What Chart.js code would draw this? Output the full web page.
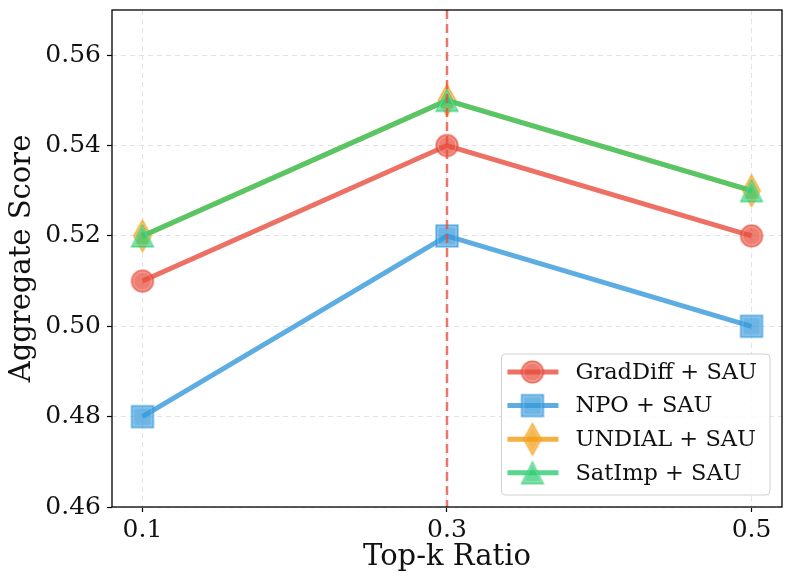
<!DOCTYPE html>
<html>
<head>
<meta charset="utf-8">
<script src="https://cdn.jsdelivr.net/npm/chart.js@4.4.1/dist/chart.umd.min.js"></script>
<style>
  html, body { margin: 0; padding: 0; background: #fff; }
  #wrap { width: 792px; height: 586px; }
</style>
</head>
<body>
<div id="wrap"><canvas id="chart" width="792" height="586"></canvas></div>
<script>
// Top-k ratio sweep
const ratios = [0.1, 0.3, 0.5];
const gradDiff = [0.51, 0.54, 0.52];
const npo = [0.48, 0.52, 0.50];
const undial = [0.52, 0.55, 0.53];
const satImp = [0.52, 0.55, 0.53];
const seriesNames = ['GradDiff + SAU', 'NPO + SAU', 'UNDIAL + SAU', 'SatImp + SAU'];
const xTicks = [0.1, 0.3, 0.5];
const yTicks = [0.46, 0.48, 0.50, 0.52, 0.54, 0.56];
const markedRatio = 0.3;

const FONT = "'DejaVu Serif', serif";
const rgba = (c, a) => `rgba(${c[0]},${c[1]},${c[2]},${a})`;
const RED = [231, 76, 60], BLUE = [52, 152, 219], ORANGE = [243, 156, 18], GREEN = [46, 204, 113];

function shapePath(ctx, shape, cx, cy, r) {
    ctx.beginPath();
    if (shape === 'circle') {
        ctx.arc(cx, cy, r, 0, Math.PI * 2);
    } else if (shape === 'square') {
        ctx.rect(cx - r, cy - r, 2 * r, 2 * r);
    } else if (shape === 'thinDiamond') {
        ctx.moveTo(cx, cy - r * 1.45);
        ctx.lineTo(cx + r * 0.8, cy);
        ctx.lineTo(cx, cy + r * 1.45);
        ctx.lineTo(cx - r * 0.8, cy);
        ctx.closePath();
    } else {
        ctx.moveTo(cx, cy - r);
        ctx.lineTo(cx + r, cy + r);
        ctx.lineTo(cx - r, cy + r);
        ctx.closePath();
    }
}

function makeMarker(shape, color, r) {
    const c = document.createElement('canvas');
    const s = Math.ceil(r * 3.2);
    c.width = s; c.height = s;
    const ctx = c.getContext('2d');
    shapePath(ctx, shape, s / 2, s / 2, r);
    ctx.fillStyle = rgba(color, 0.72);
    ctx.fill();
    ctx.lineWidth = 1.5;
    ctx.strokeStyle = rgba(color, 0.55);
    ctx.stroke();
    shapePath(ctx, shape, s / 2, s / 2, r - 2);
    ctx.lineWidth = 1;
    ctx.strokeStyle = 'rgba(255,255,255,0.3)';
    ctx.stroke();
    return c;
}

const markers = [
    makeMarker('circle', RED, 11),
    makeMarker('square', BLUE, 11),
    makeMarker('thinDiamond', ORANGE, 11),
    makeMarker('triangle', GREEN, 11)
];
const colors = [RED, BLUE, ORANGE, GREEN];
const values = [gradDiff, npo, undial, satImp];

const datasets = values.map((vals, i) => ({
    label: seriesNames[i],
    data: ratios.map((x, j) => ({ x: x, y: vals[j] })),
    borderColor: rgba(colors[i], 0.8),
    backgroundColor: rgba(colors[i], 0.8),
    borderWidth: 5,
    pointStyle: markers[i],
    pointRadius: 11,
    pointHoverRadius: 11,
    order: values.length - 1 - i,
    tension: 0
}));

// frame, red marker line and the legend inside the plot
const extras = {
    id: 'extras',
    afterDatasetsDraw(chart) {
        const ctx = chart.ctx, a = chart.chartArea;
        const x = chart.scales.x.getPixelForValue(markedRatio);
        ctx.save();
        ctx.strokeStyle = 'rgba(231,76,60,0.75)';
        ctx.lineWidth = 2.5;
        ctx.setLineDash([9, 5]);
        ctx.beginPath();
        ctx.moveTo(x, a.top);
        ctx.lineTo(x, a.bottom);
        ctx.stroke();
        ctx.setLineDash([]);
        ctx.strokeStyle = '#000';
        ctx.lineWidth = 1.3;
        ctx.strokeRect(a.left, a.top, a.right - a.left, a.bottom - a.top);

        // legend
        ctx.font = '22.5px ' + FONT;
        const maxW = Math.max(...seriesNames.map(n => ctx.measureText(n).width));
        const w = 74 + maxW + 13, h = 141;
        const bx = a.right - 12 - w, by = a.bottom - 12 - h;
        ctx.beginPath();
        ctx.roundRect(bx, by, w, h, 4);
        ctx.fillStyle = 'rgba(255,255,255,0.85)';
        ctx.fill();
        ctx.strokeStyle = '#d0d0d0';
        ctx.lineWidth = 1;
        ctx.stroke();
        seriesNames.forEach((name, i) => {
            const y = by + 18 + i * 33.6;
            ctx.strokeStyle = rgba(colors[i], 0.8);
            ctx.lineWidth = 5;
            ctx.beginPath();
            ctx.moveTo(bx + 6, y);
            ctx.lineTo(bx + 57, y);
            ctx.stroke();
            const m = markers[i];
            ctx.drawImage(m, bx + 31 - m.width / 2, y - m.height / 2);
            ctx.fillStyle = '#111';
            ctx.textBaseline = 'middle';
            ctx.fillText(name, bx + 74, y + 1);
        });
        ctx.restore();
    }
};

new Chart(document.getElementById('chart'), {
    type: 'line',
    data: { datasets: datasets },
    options: {
        responsive: false,
        animation: false,
        devicePixelRatio: 1,
        layout: { autoPadding: false, padding: { top: 10, right: 10, left: 0, bottom: 0 } },
        plugins: { legend: { display: false }, tooltip: { enabled: false } },
        scales: {
            x: {
                type: 'linear',
                min: 0.08,
                max: 0.52,
                afterBuildTicks: (s) => { s.ticks = xTicks.map(v => ({ value: v })); },
                afterFit: (s) => { s.height = 79; s.paddingLeft = 0; s.paddingRight = 0; },
                ticks: {
                    color: '#111',
                    font: { family: FONT, size: 25 },
                    padding: 3,
                    maxRotation: 0,
                    callback: (v) => v.toFixed(1)
                },
                grid: { color: '#e3e3e3', lineWidth: 1, tickColor: '#000', tickLength: 5, tickWidth: 1.2 },
                border: { display: false, dash: [5, 4] },
                title: { display: true, text: 'Top-k Ratio', color: '#111', font: { family: FONT, size: 29 }, padding: { top: 0, bottom: 11 } }
            },
            y: {
                min: 0.46,
                max: 0.57,
                afterBuildTicks: (s) => { s.ticks = yTicks.map(v => ({ value: v })); },
                afterFit: (s) => { s.width = 112; s.paddingTop = 0; s.paddingBottom = 0; },
                ticks: {
                    color: '#111',
                    font: { family: FONT, size: 25 },
                    padding: 6,
                    callback: (v) => v.toFixed(2)
                },
                grid: { color: '#e3e3e3', lineWidth: 1, tickColor: '#000', tickLength: 5, tickWidth: 1.2 },
                border: { display: false, dash: [5, 4] },
                title: { display: true, text: 'Aggregate Score', color: '#111', font: { family: FONT, size: 29 }, padding: { top: 5, bottom: 0 } }
            }
        }
    },
    plugins: [extras]
});
</script>
</body>
</html>
